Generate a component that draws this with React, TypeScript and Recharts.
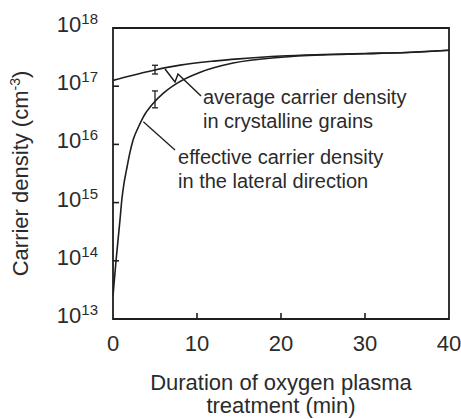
import React from 'react';
import {
  ComposedChart,
  Line,
  XAxis,
  YAxis,
  Scatter,
  ErrorBar,
  ReferenceArea,
  ReferenceDot,
  Label,
} from 'recharts';

// ---- data ----
const xTicks = [0, 10, 20, 30, 40];
const yExponents = [13, 14, 15, 16, 17, 18];
const yTicks = yExponents.map((e) => Math.pow(10, e));

// average carrier density in crystalline grains
const grainX = [0, 2, 5, 8, 12, 15, 20, 25, 30, 35, 40];
const grainY = [1.26e17, 1.5e17, 1.9e17, 2.3e17, 2.7e17, 2.95e17, 3.3e17, 3.5e17, 3.65e17, 3.8e17, 4.15e17];

// effective carrier density in the lateral direction
const lateralX = [0, 0.36, 0.83, 1.05, 1.3, 1.6, 2.0, 2.4, 3.0, 3.6, 4.8, 6.0, 7.6, 10.4, 14.3, 20, 25, 30, 35, 40];
const lateralY = [
  2.5e13, 1e14, 5e14, 1.12e15, 2.1e15, 3.6e15, 7.1e15, 1.2e16, 1.95e16, 2.95e16, 5.1e16, 7.6e16, 1.12e17,
  1.74e17, 2.5e17, 3.15e17, 3.45e17, 3.6e17, 3.8e17, 4.15e17,
];

// measured points with error bars
const pointX = [5, 5];
const pointY = [1.93e17, 6.2e16];
const pointErrLow = [0.31e17, 1.95e16];
const pointErrHigh = [0.36e17, 2.1e16];

// annotation leader lines (data coordinates)
const leaderGrainX = [6.19, 7.38, 7.74, 10.48];
const leaderGrainY = [1.98e17, 1.18e17, 1.62e17, 6.8e16];
const leaderLateralX = [3.61, 7.38];
const leaderLateralY = [2.45e16, 8.0e15];

const grainLabel = ['average carrier density', 'in crystalline grains'];
const lateralLabel = ['effective carrier density', 'in the lateral direction'];

const zip = (xs: number[], ys: number[]) => xs.map((x, i) => ({ x, y: ys[i] }));
const grainData = zip(grainX, grainY);
const lateralData = zip(lateralX, lateralY);
const pointData = pointX.map((x, i) => ({ x, y: pointY[i], err: [pointErrLow[i], pointErrHigh[i]] }));
const leaderGrain = zip(leaderGrainX, leaderGrainY);
const leaderLateral = zip(leaderLateralX, leaderLateralY);

const FONT = '"Liberation Sans", Arial, Helvetica, sans-serif';
const TEXT = '#2b2b2b';
const INK = '#1e1e1e';

const XTick = (props: any) => {
  const { x, y, payload } = props;
  const v = payload.value;
  return (
    <g>
      {v > 0 && v < 40 && <line x1={x} x2={x} y1={y} y2={y - 6} stroke={INK} strokeWidth={1.6} />}
      <text x={x} y={y + 32} textAnchor="middle" fontFamily={FONT} fontSize={22} fill={TEXT}>
        {v}
      </text>
    </g>
  );
};

const YTick = (props: any) => {
  const { x, y, payload } = props;
  const exp = Math.round(Math.log10(payload.value));
  return (
    <g>
      {exp > 13 && exp < 18 && <line x1={x} x2={x + 6} y1={y} y2={y} stroke={INK} strokeWidth={1.6} />}
      <text x={x - 15} y={y + 4} textAnchor="end" fontFamily={FONT} fontSize={22} fill={TEXT}>
        10
        <tspan dy={-8} fontSize={15}>
          {exp}
        </tspan>
      </text>
    </g>
  );
};

const TwoLineText = (lines: string[]) => (props: any) => {
  const { cx, cy } = props;
  return (
    <text x={cx} y={cy} fontFamily={FONT} fontSize={20} fill={TEXT}>
      <tspan x={cx} dy={0}>
        {lines[0]}
      </tspan>
      <tspan x={cx} dy={24}>
        {lines[1]}
      </tspan>
    </text>
  );
};

export default function App() {
  return (
    <div style={{ position: 'absolute', left: 0, top: 0, width: 461, height: 419, background: '#fff' }}>
      <ComposedChart width={461} height={419} margin={{ top: 28, right: 12, bottom: 0, left: 0 }}>
        <XAxis
          dataKey="x"
          type="number"
          domain={[0, 40]}
          ticks={xTicks}
          axisLine={false}
          tickLine={false}
          tickSize={0}
          tickMargin={0}
          height={100}
          tick={<XTick />}
          interval={0}
          allowDataOverflow
        >
          <Label
            content={(p: any) => {
              const vb = p.viewBox;
              const cx = vb.x + vb.width / 2;
              return (
                <text x={cx} y={390} textAnchor="middle" fontFamily={FONT} fontSize={22} fill={TEXT}>
                  <tspan x={cx} dy={0}>
                    Duration of oxygen plasma
                  </tspan>
                  <tspan x={cx} dy={23}>
                    treatment (min)
                  </tspan>
                </text>
              );
            }}
          />
        </XAxis>
        <YAxis
          dataKey="y"
          type="number"
          scale="log"
          domain={[1e13, 1e18]}
          ticks={yTicks}
          axisLine={false}
          tickLine={false}
          tickSize={0}
          tickMargin={0}
          width={113}
          tick={<YTick />}
          interval={0}
          allowDataOverflow
        >
          <Label
            content={(p: any) => {
              const vb = p.viewBox;
              const cy = vb.y + vb.height / 2;
              return (
                <text
                  x={28}
                  y={cy}
                  transform={`rotate(-90, 28, ${cy})`}
                  textAnchor="middle"
                  fontFamily={FONT}
                  fontSize={22}
                  fill={TEXT}
                >
                  Carrier density (cm
                  <tspan dy={-8} fontSize={14}>
                    -3
                  </tspan>
                  <tspan dy={8}>)</tspan>
                </text>
              );
            }}
          />
        </YAxis>
        <ReferenceArea x1={0} x2={40} y1={1e13} y2={1e18} fill="none" stroke={INK} strokeWidth={1.8} />
        <Line data={grainData} dataKey="y" type="monotone" stroke={INK} strokeWidth={1.6} dot={false} isAnimationActive={false} />
        <Line data={lateralData} dataKey="y" type="monotone" stroke={INK} strokeWidth={1.6} dot={false} isAnimationActive={false} />
        <Line data={leaderGrain} dataKey="y" type="linear" stroke={INK} strokeWidth={1.5} dot={false} isAnimationActive={false} />
        <Line data={leaderLateral} dataKey="y" type="linear" stroke={INK} strokeWidth={1.3} dot={false} isAnimationActive={false} />
        <Scatter data={pointData} dataKey="y" shape={() => <g />} isAnimationActive={false}>
          <ErrorBar dataKey="err" direction="y" width={3} stroke={INK} strokeWidth={1.3} isAnimationActive={false} />
        </Scatter>
        <ReferenceDot x={10.71} y={4.9e16} r={0} shape={TwoLineText(grainLabel)} />
        <ReferenceDot x={7.74} y={4.6e15} r={0} shape={TwoLineText(lateralLabel)} />
      </ComposedChart>
    </div>
  );
}
